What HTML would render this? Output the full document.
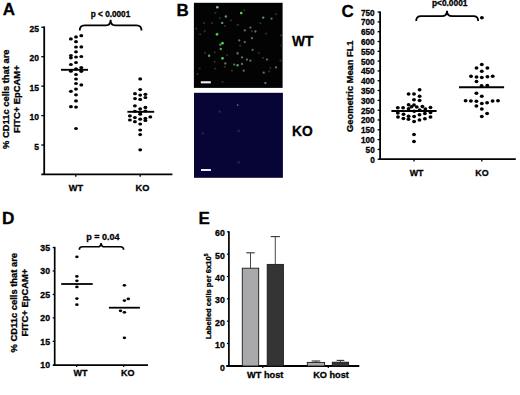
<!DOCTYPE html>
<html><head><meta charset="utf-8"><style>
html,body{margin:0;padding:0;background:#fff;width:520px;height:395px;overflow:hidden}
svg{display:block}
text{stroke:#000;stroke-width:0.3px;paint-order:stroke}
</style></head><body>
<svg width="520" height="395" viewBox="0 0 520 395" font-family="'Liberation Sans', sans-serif" font-weight="bold">
<rect width="520" height="395" fill="#fff"/>
<text x="2.8" y="15.4" font-size="17" text-anchor="start" >A</text>
<line x1="44.2" y1="26.4" x2="44.2" y2="174.9" stroke="#000" stroke-width="1.8"/>
<line x1="41.3" y1="145.05" x2="44" y2="145.05" stroke="#000" stroke-width="1.3"/>
<text x="38.9" y="149.65" font-size="8.5" text-anchor="end" >5</text>
<line x1="41.3" y1="115.6" x2="44" y2="115.6" stroke="#000" stroke-width="1.3"/>
<text x="38.9" y="120.2" font-size="8.5" text-anchor="end" >10</text>
<line x1="41.3" y1="86.15" x2="44" y2="86.15" stroke="#000" stroke-width="1.3"/>
<text x="38.9" y="90.75" font-size="8.5" text-anchor="end" >15</text>
<line x1="41.3" y1="56.7" x2="44" y2="56.7" stroke="#000" stroke-width="1.3"/>
<text x="38.9" y="61.3" font-size="8.5" text-anchor="end" >20</text>
<line x1="41.3" y1="27.25" x2="44" y2="27.25" stroke="#000" stroke-width="1.3"/>
<text x="38.9" y="31.85" font-size="8.5" text-anchor="end" >25</text>
<line x1="41.3" y1="174.4" x2="172.4" y2="174.4" stroke="#000" stroke-width="1.9"/>
<line x1="75.8" y1="174.4" x2="75.8" y2="176.8" stroke="#000" stroke-width="1.3"/>
<line x1="140.2" y1="174.4" x2="140.2" y2="176.8" stroke="#000" stroke-width="1.3"/>
<text x="76" y="190.6" font-size="9.2" text-anchor="middle" >WT</text>
<text x="142.5" y="190.8" font-size="9.2" text-anchor="middle" >KO</text>
<g transform="translate(8.8,99.2) rotate(-90)">
<text x="0" y="0" font-size="9.4" text-anchor="middle" >% CD11c cells that are</text>
</g>
<g transform="translate(19.9,99.2) rotate(-90)">
<text x="0" y="0" font-size="9.4" text-anchor="middle" >FITC+ EpCAM+</text>
</g>
<path d="M79.7,30.6 C79.7,27 81.1,25.4 84.6,25.4 L106,25.4 C109.2,25.4 110.6,23.4 110.6,19.8 C110.6,23.4 112,25.4 115.2,25.4 L136.6,25.4 C140.1,25.4 141.5,27 141.5,30.6" fill="none" stroke="#000" stroke-width="1.8"/>
<text x="110.5" y="17.1" font-size="8.2" text-anchor="middle" >p &lt; 0.0001</text>
<ellipse cx="81.3" cy="35.7" rx="1.95" ry="1.6"/>
<ellipse cx="76.0" cy="36.9" rx="1.95" ry="1.6"/>
<ellipse cx="70.9" cy="38.9" rx="1.95" ry="1.6"/>
<ellipse cx="76.0" cy="41.7" rx="1.95" ry="1.6"/>
<ellipse cx="76.0" cy="47.0" rx="1.95" ry="1.6"/>
<ellipse cx="81.3" cy="46.9" rx="1.95" ry="1.6"/>
<ellipse cx="76.0" cy="51.8" rx="1.95" ry="1.6"/>
<ellipse cx="70.9" cy="55.6" rx="1.95" ry="1.6"/>
<ellipse cx="70.9" cy="57.8" rx="1.95" ry="1.6"/>
<ellipse cx="76.0" cy="57.0" rx="1.95" ry="1.6"/>
<ellipse cx="81.3" cy="56.5" rx="1.95" ry="1.6"/>
<ellipse cx="76.0" cy="62.5" rx="1.95" ry="1.6"/>
<ellipse cx="70.9" cy="64.5" rx="1.95" ry="1.6"/>
<ellipse cx="76.0" cy="68.9" rx="1.95" ry="1.6"/>
<ellipse cx="81.3" cy="67.6" rx="1.95" ry="1.6"/>
<ellipse cx="81.3" cy="71.3" rx="1.95" ry="1.6"/>
<ellipse cx="70.9" cy="71.2" rx="1.95" ry="1.6"/>
<ellipse cx="76.0" cy="74.5" rx="1.95" ry="1.6"/>
<ellipse cx="76.0" cy="79.0" rx="1.95" ry="1.6"/>
<ellipse cx="76.0" cy="83.5" rx="1.95" ry="1.6"/>
<ellipse cx="81.3" cy="84.9" rx="1.95" ry="1.6"/>
<ellipse cx="76.0" cy="89.1" rx="1.95" ry="1.6"/>
<ellipse cx="70.9" cy="91.3" rx="1.95" ry="1.6"/>
<ellipse cx="76.0" cy="94.8" rx="1.95" ry="1.6"/>
<ellipse cx="76.0" cy="100.9" rx="1.95" ry="1.6"/>
<ellipse cx="70.9" cy="106.7" rx="1.95" ry="1.6"/>
<ellipse cx="76.0" cy="107.1" rx="1.95" ry="1.6"/>
<ellipse cx="76.0" cy="128.5" rx="1.95" ry="1.6"/>
<ellipse cx="140.2" cy="78.9" rx="1.95" ry="1.6"/>
<ellipse cx="140.2" cy="89.6" rx="1.95" ry="1.6"/>
<ellipse cx="135.0" cy="93.7" rx="1.95" ry="1.6"/>
<ellipse cx="140.2" cy="95.1" rx="1.95" ry="1.6"/>
<ellipse cx="145.4" cy="94.3" rx="1.95" ry="1.6"/>
<ellipse cx="145.4" cy="97.5" rx="1.95" ry="1.6"/>
<ellipse cx="135.0" cy="98.6" rx="1.95" ry="1.6"/>
<ellipse cx="140.2" cy="99.4" rx="1.95" ry="1.6"/>
<ellipse cx="134.9" cy="105.8" rx="1.95" ry="1.6"/>
<ellipse cx="140.2" cy="108.8" rx="1.95" ry="1.6"/>
<ellipse cx="145.4" cy="107.4" rx="1.95" ry="1.6"/>
<ellipse cx="134.9" cy="111.3" rx="1.95" ry="1.6"/>
<ellipse cx="145.4" cy="111.0" rx="1.95" ry="1.6"/>
<ellipse cx="140.2" cy="112.2" rx="1.95" ry="1.6"/>
<ellipse cx="140.2" cy="114.2" rx="1.95" ry="1.6"/>
<ellipse cx="129.9" cy="115.9" rx="1.95" ry="1.6"/>
<ellipse cx="129.9" cy="120.0" rx="1.95" ry="1.6"/>
<ellipse cx="134.9" cy="117.6" rx="1.95" ry="1.6"/>
<ellipse cx="134.9" cy="121.7" rx="1.95" ry="1.6"/>
<ellipse cx="140.2" cy="119.2" rx="1.95" ry="1.6"/>
<ellipse cx="145.4" cy="118.4" rx="1.95" ry="1.6"/>
<ellipse cx="145.4" cy="120.5" rx="1.95" ry="1.6"/>
<ellipse cx="150.3" cy="116.9" rx="1.95" ry="1.6"/>
<ellipse cx="140.2" cy="124.0" rx="1.95" ry="1.6"/>
<ellipse cx="140.2" cy="130.0" rx="1.95" ry="1.6"/>
<ellipse cx="140.2" cy="134.6" rx="1.95" ry="1.6"/>
<ellipse cx="140.2" cy="149.8" rx="1.95" ry="1.6"/>
<line x1="61" y1="69.8" x2="88" y2="69.8" stroke="#000" stroke-width="1.9"/>
<line x1="127.4" y1="111.8" x2="154.2" y2="111.8" stroke="#000" stroke-width="1.9"/>
<text x="176.6" y="15.9" font-size="17" text-anchor="start" >B</text>
<rect x="193.9" y="2.8" width="88.7" height="85.1" fill="#020302"/>
<rect x="194" y="92.8" width="88.9" height="85" fill="#070535"/>
<defs><filter id="bl" x="-50%" y="-50%" width="200%" height="200%"><feGaussianBlur stdDeviation="0.45"/></filter></defs>
<g filter="url(#bl)">
<circle cx="215.3" cy="13.1" r="1.1" fill="#262e27"/>
<circle cx="219.7" cy="18.1" r="1.1" fill="#262e27"/>
<circle cx="211.9" cy="23.2" r="1.1" fill="#262e27"/>
<circle cx="204.1" cy="23.2" r="1.1" fill="#262e27"/>
<circle cx="224.7" cy="26" r="1.1" fill="#262e27"/>
<circle cx="230.9" cy="20.4" r="1.1" fill="#262e27"/>
<circle cx="237.5" cy="24.8" r="1.1" fill="#262e27"/>
<circle cx="204.7" cy="31.2" r="1.1" fill="#262e27"/>
<circle cx="196.3" cy="28.7" r="1.1" fill="#262e27"/>
<circle cx="200.2" cy="34.3" r="1.1" fill="#262e27"/>
<circle cx="244.2" cy="10" r="1.1" fill="#262e27"/>
<circle cx="252" cy="31" r="1.1" fill="#262e27"/>
<circle cx="260.4" cy="23.2" r="1.1" fill="#262e27"/>
<circle cx="281" cy="35.4" r="1.1" fill="#262e27"/>
<circle cx="266" cy="33.7" r="1.1" fill="#262e27"/>
<circle cx="276" cy="14.2" r="1.1" fill="#262e27"/>
<circle cx="238.1" cy="24.8" r="1.1" fill="#262e27"/>
<circle cx="205" cy="52.9" r="1.1" fill="#262e27"/>
<circle cx="214.7" cy="52.4" r="1.1" fill="#262e27"/>
<circle cx="214.7" cy="61.8" r="1.1" fill="#262e27"/>
<circle cx="237.5" cy="52.9" r="1.1" fill="#262e27"/>
<circle cx="227" cy="55.1" r="1.1" fill="#262e27"/>
<circle cx="199.7" cy="68.5" r="1.1" fill="#262e27"/>
<circle cx="215.3" cy="68.7" r="1.1" fill="#262e27"/>
<circle cx="232" cy="70.7" r="1.1" fill="#262e27"/>
<circle cx="222.5" cy="81.9" r="1.1" fill="#262e27"/>
<circle cx="224.7" cy="66.8" r="1.1" fill="#262e27"/>
<circle cx="197.5" cy="74" r="1.1" fill="#262e27"/>
<circle cx="270.4" cy="68" r="1.1" fill="#262e27"/>
<circle cx="269.3" cy="71.3" r="1.1" fill="#262e27"/>
<circle cx="240.3" cy="45.7" r="1.1" fill="#262e27"/>
<circle cx="258.7" cy="52.9" r="1.1" fill="#262e27"/>
<circle cx="263.2" cy="57.9" r="1.1" fill="#262e27"/>
<circle cx="280.4" cy="60.7" r="1.1" fill="#262e27"/>
<circle cx="281.5" cy="45.7" r="1.1" fill="#262e27"/>
<circle cx="250.4" cy="27.6" r="1.15" fill="#5c7460"/>
<circle cx="244.8" cy="30.4" r="1.15" fill="#5c7460"/>
<circle cx="255.4" cy="31.5" r="1.15" fill="#5c7460"/>
<circle cx="252" cy="38.2" r="1.15" fill="#5c7460"/>
<circle cx="239.2" cy="40.4" r="1.15" fill="#5c7460"/>
<circle cx="244.8" cy="42.1" r="1.15" fill="#5c7460"/>
<circle cx="252.6" cy="49.8" r="1.15" fill="#5c7460"/>
<circle cx="242" cy="57.4" r="1.15" fill="#5c7460"/>
<circle cx="247" cy="59.6" r="1.15" fill="#5c7460"/>
<circle cx="250.4" cy="60.7" r="1.15" fill="#5c7460"/>
<circle cx="242" cy="64" r="1.15" fill="#5c7460"/>
<circle cx="243.7" cy="70.7" r="1.15" fill="#5c7460"/>
<circle cx="263.7" cy="72.7" r="1.15" fill="#5c7460"/>
<circle cx="267" cy="59.6" r="1.15" fill="#5c7460"/>
<circle cx="276" cy="67.4" r="1.15" fill="#5c7460"/>
<circle cx="265.4" cy="83" r="1.15" fill="#5c7460"/>
<circle cx="225.3" cy="63.5" r="1.15" fill="#5c7460"/>
<circle cx="234.2" cy="64.6" r="1.15" fill="#5c7460"/>
<circle cx="271.5" cy="18.7" r="1.15" fill="#5c7460"/>
<circle cx="237.6" cy="53.5" r="1.15" fill="#5c7460"/>
<circle cx="225.9" cy="16.5" r="1.2" fill="#5a9c5a"/>
<circle cx="222.2" cy="22.9" r="1.2" fill="#5a9c5a"/>
<circle cx="220.3" cy="44.6" r="1.2" fill="#5a9c5a"/>
<circle cx="263.2" cy="17.6" r="1.2" fill="#5a9c5a"/>
<circle cx="220.8" cy="49" r="1.2" fill="#5a9c5a"/>
<circle cx="209.1" cy="55.7" r="1.2" fill="#5a9c5a"/>
<circle cx="237.6" cy="65.2" r="1.2" fill="#5a9c5a"/>
<circle cx="241.2" cy="13.1" r="1.35" fill="#50d04c"/>
<circle cx="217" cy="34.3" r="1.35" fill="#50d04c"/>
<circle cx="222.5" cy="43.2" r="1.35" fill="#50d04c"/>
<circle cx="222.5" cy="58.3" r="1.35" fill="#50d04c"/>
<circle cx="217.3" cy="7.3" r="1.3" fill="#88c888"/>
</g>
<line x1="200.8" y1="82.3" x2="210.8" y2="82.3" stroke="#f2f2f2" stroke-width="2.1"/>
<g filter="url(#bl)">
<circle cx="219.6" cy="111.6" r="1.2" fill="#26264e"/>
<circle cx="202.8" cy="133.4" r="1.2" fill="#26264e"/>
<circle cx="238.7" cy="130.8" r="1.2" fill="#26264e"/>
<circle cx="238.7" cy="162.2" r="1.2" fill="#26264e"/>
<circle cx="237.7" cy="105.1" r="0.85" fill="#6c6c94"/>
</g>
<line x1="201.0" y1="170.0" x2="210.9" y2="170.0" stroke="#ecebf6" stroke-width="2.0"/>
<text x="291.9" y="46.4" font-size="13.8" text-anchor="start" >WT</text>
<text x="292.0" y="136.3" font-size="13.8" text-anchor="start" >KO</text>
<text x="341.6" y="16.6" font-size="17" text-anchor="start" >C</text>
<line x1="380.1" y1="11.5" x2="380.1" y2="159.9" stroke="#000" stroke-width="1.8"/>
<line x1="377.6" y1="159.2" x2="380" y2="159.2" stroke="#000" stroke-width="1.3"/>
<text x="374.7" y="163.4" font-size="8.2" text-anchor="end" >0</text>
<line x1="377.6" y1="149.39" x2="380" y2="149.39" stroke="#000" stroke-width="1.3"/>
<text x="374.7" y="152.89" font-size="8.2" text-anchor="end" >50</text>
<line x1="377.6" y1="139.59" x2="380" y2="139.59" stroke="#000" stroke-width="1.3"/>
<text x="374.7" y="143.09" font-size="8.2" text-anchor="end" >100</text>
<line x1="377.6" y1="129.78" x2="380" y2="129.78" stroke="#000" stroke-width="1.3"/>
<text x="374.7" y="133.28" font-size="8.2" text-anchor="end" >150</text>
<line x1="377.6" y1="119.97" x2="380" y2="119.97" stroke="#000" stroke-width="1.3"/>
<text x="374.7" y="123.47" font-size="8.2" text-anchor="end" >200</text>
<line x1="377.6" y1="110.17" x2="380" y2="110.17" stroke="#000" stroke-width="1.3"/>
<text x="374.7" y="113.67" font-size="8.2" text-anchor="end" >250</text>
<line x1="377.6" y1="100.36" x2="380" y2="100.36" stroke="#000" stroke-width="1.3"/>
<text x="374.7" y="103.86" font-size="8.2" text-anchor="end" >300</text>
<line x1="377.6" y1="90.55" x2="380" y2="90.55" stroke="#000" stroke-width="1.3"/>
<text x="374.7" y="94.05" font-size="8.2" text-anchor="end" >350</text>
<line x1="377.6" y1="80.75" x2="380" y2="80.75" stroke="#000" stroke-width="1.3"/>
<text x="374.7" y="84.25" font-size="8.2" text-anchor="end" >400</text>
<line x1="377.6" y1="70.94" x2="380" y2="70.94" stroke="#000" stroke-width="1.3"/>
<text x="374.7" y="74.44" font-size="8.2" text-anchor="end" >450</text>
<line x1="377.6" y1="61.13" x2="380" y2="61.13" stroke="#000" stroke-width="1.3"/>
<text x="374.7" y="64.63" font-size="8.2" text-anchor="end" >500</text>
<line x1="377.6" y1="51.33" x2="380" y2="51.33" stroke="#000" stroke-width="1.3"/>
<text x="374.7" y="54.83" font-size="8.2" text-anchor="end" >550</text>
<line x1="377.6" y1="41.52" x2="380" y2="41.52" stroke="#000" stroke-width="1.3"/>
<text x="374.7" y="45.02" font-size="8.2" text-anchor="end" >600</text>
<line x1="377.6" y1="31.72" x2="380" y2="31.72" stroke="#000" stroke-width="1.3"/>
<text x="374.7" y="35.22" font-size="8.2" text-anchor="end" >650</text>
<line x1="377.6" y1="21.91" x2="380" y2="21.91" stroke="#000" stroke-width="1.3"/>
<text x="374.7" y="25.41" font-size="8.2" text-anchor="end" >700</text>
<line x1="377.6" y1="12.1" x2="380" y2="12.1" stroke="#000" stroke-width="1.3"/>
<text x="374.7" y="15.6" font-size="8.2" text-anchor="end" >750</text>
<line x1="379.2" y1="159.1" x2="515.8" y2="159.1" stroke="#000" stroke-width="1.9"/>
<line x1="414" y1="159" x2="414" y2="161.4" stroke="#000" stroke-width="1.3"/>
<line x1="481.8" y1="159" x2="481.8" y2="161.4" stroke="#000" stroke-width="1.3"/>
<text x="416.6" y="175.6" font-size="8.9" text-anchor="middle" >WT</text>
<text x="482" y="175.8" font-size="8.9" text-anchor="middle" >KO</text>
<g transform="translate(353.1,86.2) rotate(-90)">
<text x="0" y="0" font-size="9.3" text-anchor="middle" >Geometric Mean FL1</text>
</g>
<path d="M416.2,20.9 C416.2,17.7 417.6,16.2 421,16.2 L441.8,16.2 C445.3,16.2 447,14.3 447,10.8 C447,14.3 448.7,16.2 452.2,16.2 L473.4,16.2 C476.8,16.2 478.2,17.7 478.2,20.9" fill="none" stroke="#000" stroke-width="1.8"/>
<text x="449.7" y="5.8" font-size="8.4" text-anchor="middle" >p&lt;0.0001</text>
<ellipse cx="419.6" cy="89.8" rx="1.95" ry="1.75"/>
<ellipse cx="408.6" cy="93.9" rx="1.95" ry="1.75"/>
<ellipse cx="414" cy="93.9" rx="1.95" ry="1.75"/>
<ellipse cx="419.6" cy="96.2" rx="1.95" ry="1.75"/>
<ellipse cx="414" cy="99.7" rx="1.95" ry="1.75"/>
<ellipse cx="419.6" cy="100.6" rx="1.95" ry="1.75"/>
<ellipse cx="408.6" cy="104.8" rx="1.95" ry="1.75"/>
<ellipse cx="414" cy="105.1" rx="1.95" ry="1.75"/>
<ellipse cx="411.5" cy="106.8" rx="1.95" ry="1.75"/>
<ellipse cx="416.8" cy="107.1" rx="1.95" ry="1.75"/>
<ellipse cx="422.4" cy="106.4" rx="1.95" ry="1.75"/>
<ellipse cx="397.8" cy="107.7" rx="1.95" ry="1.75"/>
<ellipse cx="403.1" cy="107.7" rx="1.95" ry="1.75"/>
<ellipse cx="425.3" cy="109" rx="1.95" ry="1.75"/>
<ellipse cx="408.6" cy="108.7" rx="1.95" ry="1.75"/>
<ellipse cx="430.5" cy="107.5" rx="1.95" ry="1.75"/>
<ellipse cx="419.7" cy="110" rx="1.95" ry="1.75"/>
<ellipse cx="414.2" cy="111.2" rx="1.95" ry="1.75"/>
<ellipse cx="397.8" cy="112.9" rx="1.95" ry="1.75"/>
<ellipse cx="403.5" cy="114.3" rx="1.95" ry="1.75"/>
<ellipse cx="424.9" cy="113.6" rx="1.95" ry="1.75"/>
<ellipse cx="430.5" cy="112.5" rx="1.95" ry="1.75"/>
<ellipse cx="419.5" cy="114.7" rx="1.95" ry="1.75"/>
<ellipse cx="408.6" cy="116.2" rx="1.95" ry="1.75"/>
<ellipse cx="414.1" cy="116.5" rx="1.95" ry="1.75"/>
<ellipse cx="398" cy="117.1" rx="1.95" ry="1.75"/>
<ellipse cx="403.4" cy="118.6" rx="1.95" ry="1.75"/>
<ellipse cx="408.5" cy="119.3" rx="1.95" ry="1.75"/>
<ellipse cx="414.1" cy="121.5" rx="1.95" ry="1.75"/>
<ellipse cx="419.5" cy="120" rx="1.95" ry="1.75"/>
<ellipse cx="424.9" cy="118.8" rx="1.95" ry="1.75"/>
<ellipse cx="430.5" cy="117.1" rx="1.95" ry="1.75"/>
<ellipse cx="414" cy="134.5" rx="1.95" ry="1.75"/>
<ellipse cx="414" cy="141.4" rx="1.95" ry="1.75"/>
<ellipse cx="481.9" cy="17.7" rx="1.95" ry="1.75"/>
<ellipse cx="481.8" cy="64.6" rx="1.95" ry="1.75"/>
<ellipse cx="476.5" cy="68" rx="1.95" ry="1.75"/>
<ellipse cx="487.4" cy="68" rx="1.95" ry="1.75"/>
<ellipse cx="481.8" cy="71.2" rx="1.95" ry="1.75"/>
<ellipse cx="471" cy="76.3" rx="1.95" ry="1.75"/>
<ellipse cx="476.5" cy="77.1" rx="1.95" ry="1.75"/>
<ellipse cx="481.8" cy="77.5" rx="1.95" ry="1.75"/>
<ellipse cx="487.4" cy="76.8" rx="1.95" ry="1.75"/>
<ellipse cx="492.7" cy="76.3" rx="1.95" ry="1.75"/>
<ellipse cx="476.5" cy="81.5" rx="1.95" ry="1.75"/>
<ellipse cx="481.6" cy="85.8" rx="1.95" ry="1.75"/>
<ellipse cx="487.3" cy="85.6" rx="1.95" ry="1.75"/>
<ellipse cx="476.4" cy="93.2" rx="1.95" ry="1.75"/>
<ellipse cx="481.8" cy="96.3" rx="1.95" ry="1.75"/>
<ellipse cx="465.6" cy="100.7" rx="1.95" ry="1.75"/>
<ellipse cx="470.9" cy="100.9" rx="1.95" ry="1.75"/>
<ellipse cx="476.4" cy="101.2" rx="1.95" ry="1.75"/>
<ellipse cx="481.8" cy="103.4" rx="1.95" ry="1.75"/>
<ellipse cx="487.1" cy="102.7" rx="1.95" ry="1.75"/>
<ellipse cx="492.6" cy="101" rx="1.95" ry="1.75"/>
<ellipse cx="498" cy="100.7" rx="1.95" ry="1.75"/>
<ellipse cx="476.4" cy="106.1" rx="1.95" ry="1.75"/>
<ellipse cx="481.8" cy="109.1" rx="1.95" ry="1.75"/>
<ellipse cx="487.1" cy="113.6" rx="1.95" ry="1.75"/>
<ellipse cx="481.8" cy="116.6" rx="1.95" ry="1.75"/>
<line x1="391.4" y1="111.0" x2="436.6" y2="111.0" stroke="#000" stroke-width="1.9"/>
<line x1="459" y1="87.2" x2="504.1" y2="87.2" stroke="#000" stroke-width="1.9"/>
<text x="2.1" y="224.3" font-size="17.2" text-anchor="start" >D</text>
<line x1="54.7" y1="246.8" x2="54.7" y2="365.6" stroke="#000" stroke-width="1.7"/>
<text x="50.0" y="368.2" font-size="8.7" text-anchor="end" >10</text>
<line x1="52.7" y1="341.35" x2="54.5" y2="341.35" stroke="#000" stroke-width="1.3"/>
<text x="50.0" y="344.75" font-size="8.7" text-anchor="end" >15</text>
<line x1="52.7" y1="317.9" x2="54.5" y2="317.9" stroke="#000" stroke-width="1.3"/>
<text x="50.0" y="321.3" font-size="8.7" text-anchor="end" >20</text>
<line x1="52.7" y1="294.45" x2="54.5" y2="294.45" stroke="#000" stroke-width="1.3"/>
<text x="50.0" y="297.85" font-size="8.7" text-anchor="end" >25</text>
<line x1="52.7" y1="271.0" x2="54.5" y2="271.0" stroke="#000" stroke-width="1.3"/>
<text x="50.0" y="274.4" font-size="8.7" text-anchor="end" >30</text>
<line x1="52.7" y1="247.55" x2="54.5" y2="247.55" stroke="#000" stroke-width="1.3"/>
<text x="50.0" y="250.95" font-size="8.7" text-anchor="end" >35</text>
<line x1="52.8" y1="365.1" x2="148" y2="365.1" stroke="#000" stroke-width="1.8"/>
<line x1="76.7" y1="365.1" x2="76.7" y2="367.1" stroke="#000" stroke-width="1.2"/>
<line x1="123.7" y1="365.1" x2="123.7" y2="367.1" stroke="#000" stroke-width="1.2"/>
<text x="80.6" y="375.8" font-size="9.0" text-anchor="middle" >WT</text>
<text x="127.8" y="375.6" font-size="9.0" text-anchor="middle" >KO</text>
<g transform="translate(17.2,302.7) rotate(-90)">
<text x="0" y="0" font-size="9.4" text-anchor="middle" >% CD11c cells that are</text>
</g>
<g transform="translate(28.0,302.6) rotate(-90)">
<text x="0" y="0" font-size="9.4" text-anchor="middle" >FITC+ EpCAM+</text>
</g>
<path d="M79.3,249.7 C79.3,247.7 80.3,246.8 82.5,246.8 L97.5,246.8 C99.8,246.8 101.1,245.5 101.1,242.9 C101.1,245.5 102.4,246.8 104.7,246.8 L120.4,246.8 C122.6,246.8 123.6,247.7 123.6,249.7" fill="none" stroke="#000" stroke-width="1.6"/>
<text x="102.8" y="240.1" font-size="9.0" text-anchor="middle" >p = 0.04</text>
<ellipse cx="76.9" cy="256.8" rx="1.75" ry="1.35"/>
<ellipse cx="76.9" cy="276.4" rx="1.75" ry="1.35"/>
<ellipse cx="76.9" cy="280.8" rx="1.75" ry="1.35"/>
<ellipse cx="76.9" cy="286.9" rx="1.75" ry="1.35"/>
<ellipse cx="76.9" cy="298.6" rx="1.75" ry="1.35"/>
<ellipse cx="76.9" cy="304.7" rx="1.75" ry="1.35"/>
<ellipse cx="124.4" cy="285.3" rx="1.75" ry="1.35"/>
<ellipse cx="124.4" cy="300.6" rx="1.75" ry="1.35"/>
<ellipse cx="128.3" cy="298.9" rx="1.75" ry="1.35"/>
<ellipse cx="120.5" cy="310.8" rx="1.75" ry="1.35"/>
<ellipse cx="124.4" cy="312.3" rx="1.75" ry="1.35"/>
<ellipse cx="124.4" cy="337.8" rx="1.75" ry="1.35"/>
<line x1="61.2" y1="284" x2="92.7" y2="284" stroke="#000" stroke-width="1.8"/>
<line x1="108.9" y1="307.7" x2="139.9" y2="307.7" stroke="#000" stroke-width="1.8"/>
<text x="198.4" y="223.7" font-size="17" text-anchor="start" >E</text>
<line x1="228.9" y1="231.2" x2="228.9" y2="366.6" stroke="#000" stroke-width="1.7"/>
<text x="224.9" y="371.2" font-size="8.8" text-anchor="end" >0</text>
<line x1="226.9" y1="343.47" x2="228.6" y2="343.47" stroke="#000" stroke-width="1.2"/>
<text x="224.9" y="347.97" font-size="8.8" text-anchor="end" >10</text>
<line x1="226.9" y1="321.14" x2="228.6" y2="321.14" stroke="#000" stroke-width="1.2"/>
<text x="224.9" y="325.64" font-size="8.8" text-anchor="end" >20</text>
<line x1="226.9" y1="298.81" x2="228.6" y2="298.81" stroke="#000" stroke-width="1.2"/>
<text x="224.9" y="303.31" font-size="8.8" text-anchor="end" >30</text>
<line x1="226.9" y1="276.48" x2="228.6" y2="276.48" stroke="#000" stroke-width="1.2"/>
<text x="224.9" y="280.98" font-size="8.8" text-anchor="end" >40</text>
<line x1="226.9" y1="254.15" x2="228.6" y2="254.15" stroke="#000" stroke-width="1.2"/>
<text x="224.9" y="258.65" font-size="8.8" text-anchor="end" >50</text>
<line x1="226.9" y1="231.82" x2="228.6" y2="231.82" stroke="#000" stroke-width="1.2"/>
<text x="224.9" y="236.32" font-size="8.8" text-anchor="end" >60</text>
<line x1="226.2" y1="366" x2="359.3" y2="366" stroke="#000" stroke-width="1.8"/>
<line x1="262.8" y1="366" x2="262.8" y2="368" stroke="#000" stroke-width="1.2"/>
<line x1="328.3" y1="366" x2="328.3" y2="368" stroke="#000" stroke-width="1.2"/>
<text x="265.2" y="377.6" font-size="9.2" text-anchor="middle" >WT host</text>
<text x="331" y="377.6" font-size="9.2" text-anchor="middle" >KO host</text>
<g transform="translate(211.2,296.3) rotate(-90)">
<text x="0" y="0" font-size="7.6" text-anchor="middle">Labelled cells per 6x10<tspan font-size="5" dy="-3">5</tspan></text>
</g>
<rect x="242.3" y="268.2" width="16.399999999999977" height="97.80000000000001" fill="#a9a9ad" stroke="#1a1a1a" stroke-width="0.9"/>
<line x1="250.5" y1="268.2" x2="250.5" y2="252.8" stroke="#333" stroke-width="0.9"/>
<line x1="246.3" y1="252.8" x2="254.7" y2="252.8" stroke="#333" stroke-width="1.1"/>
<rect x="267.2" y="264.4" width="16.19999999999999" height="101.60000000000002" fill="#343434" stroke="#1a1a1a" stroke-width="0.9"/>
<line x1="275.29999999999995" y1="264.4" x2="275.29999999999995" y2="236.6" stroke="#333" stroke-width="0.9"/>
<line x1="270.69999999999993" y1="236.6" x2="279.9" y2="236.6" stroke="#333" stroke-width="1.1"/>
<rect x="307.3" y="362.4" width="17.30000000000001" height="3.6000000000000227" fill="#a9a9ad" stroke="#1a1a1a" stroke-width="0.9"/>
<line x1="315.95000000000005" y1="362.4" x2="315.95000000000005" y2="361.0" stroke="#333" stroke-width="0.9"/>
<line x1="311.65000000000003" y1="361.0" x2="320.25000000000006" y2="361.0" stroke="#333" stroke-width="1.1"/>
<rect x="332.3" y="362.2" width="16.30000000000001" height="3.8000000000000114" fill="#343434" stroke="#1a1a1a" stroke-width="0.9"/>
<line x1="340.45000000000005" y1="362.2" x2="340.45000000000005" y2="360.4" stroke="#333" stroke-width="0.9"/>
<line x1="336.65000000000003" y1="360.4" x2="344.25000000000006" y2="360.4" stroke="#333" stroke-width="1.1"/>
</svg>
</body></html>
